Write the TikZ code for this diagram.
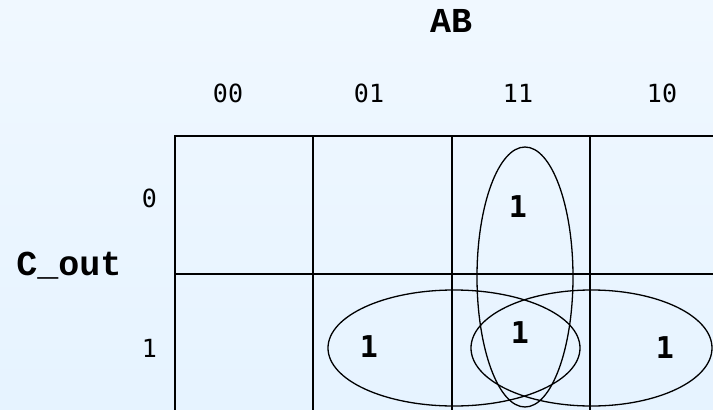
\documentclass[tikz,border=0pt]{standalone}
\usepackage{fontspec}
\newfontfamily\kmono{DejaVu Sans Mono}
\newfontfamily\kcour{Liberation Mono}
\usetikzlibrary{shapes.geometric}
\definecolor{fundotopo}{RGB}{240,248,255}
\definecolor{fundobase}{RGB}{230,243,255}
\tikzset{
  celula/.style={rectangle, draw=black, line width=2pt, inner sep=0pt, minimum size=138.3pt},
  grupo/.style={ellipse, draw=black, line width=1.3pt, inner sep=0pt},
  rotulo/.style={font=\kmono\fontsize{25}{30}\selectfont, inner sep=0pt, anchor=base},
  titulo/.style={font=\kcour\bfseries\fontsize{35}{42}\selectfont, inner sep=0pt, anchor=base},
  um/.style={font=\kmono\bfseries\fontsize{30}{36}\selectfont, inner sep=0pt, anchor=base},
}
\begin{document}
\begin{tikzpicture}[x=1pt, y=-1pt]
  \shade[top color=fundotopo, bottom color=fundobase] (0,0) rectangle (713,410);
  \useasboundingbox (0,0) rectangle (713,410);
  \clip (0,0) rectangle (713,410);

  % ---------------- rotulos ----------------
  \node[titulo] (ab) at (451,32) {AB};
  \node[titulo] (cout) at (69,275) {C\_out};
  \foreach \nome/\x in {00/228, 01/369, 11/518, 10/662} {
    \node[rotulo] (col\nome) at (\x,102) {\nome};
  }
  \node[rotulo] (lin0) at (149.5,207) {0};
  \node[rotulo] (lin1) at (149.5,357) {1};

  % ---------------- mapa ----------------
  \foreach \c/\x in {0/244.2, 1/382.5, 2/520.8, 3/659.1} {
    \foreach \r/\y in {0/205, 1/343.3} {
      \node[celula] (m\r\c) at (\x,\y) {};
    }
  }

  % ---------------- uns ----------------
  \node[um] (u02) at (518,217) {1};
  \node[um] (u11) at (369,357) {1};
  \node[um] (u12) at (520,343) {1};
  \node[um] (u13) at (665,358) {1};

  % ---------------- agrupamentos ----------------
  \node[grupo, minimum width=96pt, minimum height=260pt] (gv) at (525,277) {};
  \node[grupo, minimum width=252pt, minimum height=116pt] (ge) at (454,348) {};
  \node[grupo, minimum width=241pt, minimum height=116pt] (gd) at (591.5,348) {};
\end{tikzpicture}
\end{document}
